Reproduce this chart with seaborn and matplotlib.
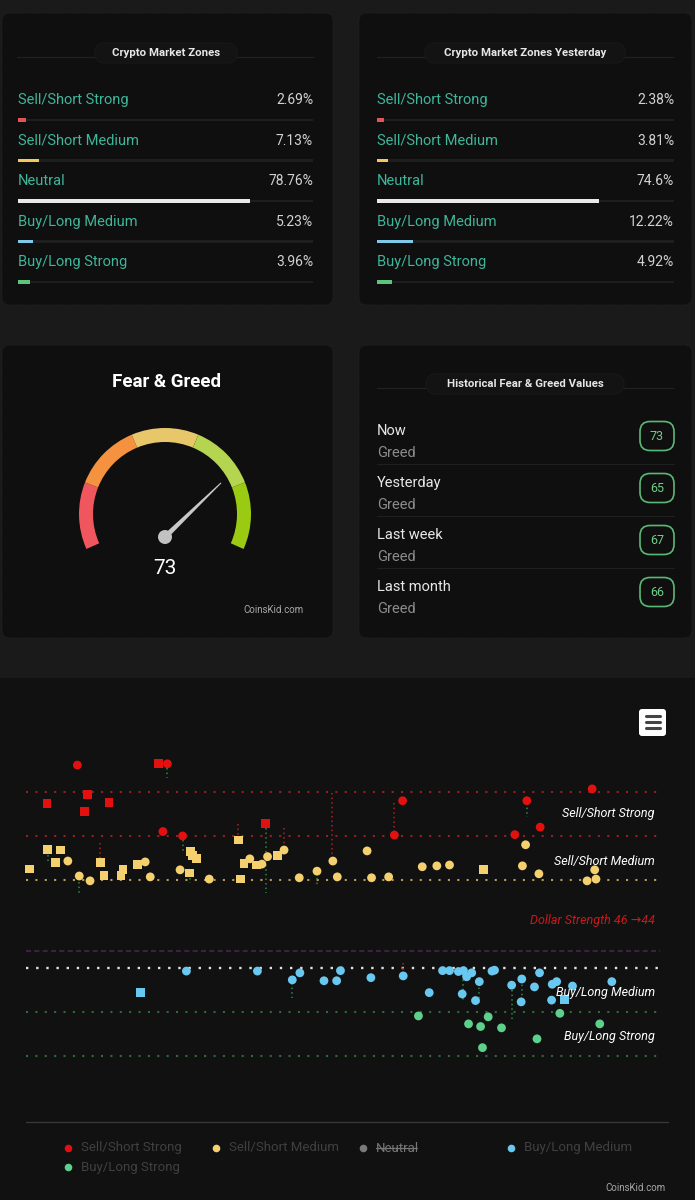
import numpy as np
import pandas as pd
import matplotlib.pyplot as plt
import seaborn as sns
from matplotlib.patches import FancyBboxPatch, Wedge, Polygon, Circle

# --- data ---
zones = ["Sell/Short Strong", "Sell/Short Medium", "Neutral", "Buy/Long Medium", "Buy/Long Strong"]
zones_today = [2.69, 7.13, 78.76, 5.23, 3.96]
zones_yesterday = [2.38, 3.81, 74.6, 12.22, 4.92]
zone_bar_colors = ["#e0555a", "#f2c95f", "#e9e9e9", "#7fc8ea", "#5cc47c"]

fg_value = 73
fg_band_edges = [0, 20, 40, 60, 80, 100]
fg_band_colors = ["#f0565d", "#f5923f", "#e8c76a", "#b5d551", "#9bca12"]

hist_labels = ["Now", "Yesterday", "Last week", "Last month"]
hist_moods = ["Greed", "Greed", "Greed", "Greed"]
hist_values = [73, 65, 67, 66]

# scatter: x = relative position (0-100), y = zone score
sss_x = [8.1, 20.9, 22.3, 9.7, 3.3, 13.1, 9.2, 21.6, 24.7, 37.8, 59.4, 58.1, 89.3, 79.0, 81.1, 77.1]
sss_y = [4.61, 4.64, 4.64, 3.95, 3.73, 3.76, 3.55, 3.10, 3.00, 3.29, 3.80, 3.02, 4.07, 3.80, 3.20, 3.03]
sss_kind = list("osossssoosoooooo")

ssm_x = [0.6, 3.4, 5.4, 4.6, 6.6, 8.4, 10.1, 11.7, 12.3, 15.3, 15.0, 17.6, 18.8, 19.6, 24.3,
         25.8, 25.9, 26.3, 26.9, 28.9, 33.5, 33.8, 34.4, 35.3, 36.3, 37.2, 38.1, 39.7, 40.7, 43.1,
         45.9, 48.4, 49.1, 53.8, 54.5, 57.2, 62.5, 64.8, 66.8, 72.1, 78.8, 78.3, 80.9, 89.7, 88.5, 89.9]
ssm_y = [2.25, 2.70, 2.68, 2.39, 2.43, 2.09, 1.98, 2.39, 2.11, 2.24, 2.11, 2.36, 2.41, 2.07, 2.23,
         2.16, 2.64, 2.55, 2.48, 2.02, 2.91, 2.02, 2.38, 2.48, 2.34, 2.36, 2.53, 2.55, 2.68, 2.05,
         2.20, 2.43, 2.07, 2.66, 2.05, 2.07, 2.30, 2.32, 2.34, 2.23, 2.80, 2.32, 2.14, 2.23, 1.98, 2.02]
ssm_kind = list("ssssooosssssooossssosssosoosoo" + "ooooooooo" + "s" + "oooooo")

blm_x = [25.3, 18.1, 36.5, 42.0, 43.2, 47.0, 49.0, 49.6, 54.4, 59.5, 63.6, 65.7, 66.8, 68.2, 69.0, 69.5, 68.8,
         70.3, 71.5, 70.9, 73.5, 73.9, 76.6, 78.2, 78.1, 80.2, 81.0, 83.0, 83.7, 82.9, 86.2, 84.9, 92.4]
blm_y = [-0.07, -0.56, -0.07, -0.27, -0.11, -0.29, -0.29, -0.06, -0.22, -0.18, -0.56, -0.06, -0.06, -0.08,
         -0.06, -0.20, -0.59, -0.11, -0.31, -0.74, -0.07, -0.05, -0.39, -0.25, -0.77, -0.43, -0.11, -0.37,
         -0.31, -0.73, -0.41, -0.71, -0.31]
blm_kind = list("os" + "o" * 29 + "so")

bls_x = [61.9, 69.8, 71.7, 72.9, 75.0, 72.0, 80.6, 84.2, 90.5]
bls_y = [-1.09, -1.27, -1.33, -1.11, -1.36, -1.81, -1.61, -1.03, -1.27]
bls_kind = list("ooooooooo")

# dotted change markers: x, from, to
green_moves = [(22.3, 4.55, 4.32), (3.4, 2.57, 2.41), (8.4, 1.95, 1.70), (24.7, 2.91, 2.61),
               (25.8, 2.05, 1.93), (37.8, 3.18, 1.70), (45.9, 2.05, 1.84), (42.0, -0.34, -0.68),
               (79.0, 3.75, 3.43), (76.6, -0.50, -1.18), (78.2, -0.27, -0.66), (71.5, -0.34, -0.80),
               (69.0, -0.16, -0.73)]
red_moves = [(11.7, 2.84, 2.45), (48.3, 3.98, 2.52), (58.1, 3.75, 3.07), (40.7, 3.18, 2.75),
             (33.5, 3.27, 2.98), (59.5, 0.11, -0.05)]

zone_levels = [4, 3, 2, 0.39, 0, -1, -2]
level_colors = ["#9c1d1d", "#9c1d1d", "#b49c5e", "#4a2350", "#e2e2e2", "#2e6a3b", "#2e6a3b"]
chart_labels = ["Sell/Short Strong", "Sell/Short Medium", "Buy/Long Medium", "Buy/Long Strong"]
chart_label_y = [3.5, 2.43, -0.55, -1.55]
dollar_text = "Dollar Strength 46 \u219244"
point_colors = {"Sell/Short Strong": "#e31010", "Sell/Short Medium": "#f5d06f", "Neutral": "#7a7a7a",
                "Buy/Long Medium": "#69c8f0", "Buy/Long Strong": "#5dd08b"}

W, H = 695, 1200
BG = "#1a1a1a"
PANEL = "#0f0f0f"
TEAL = "#3fb59a"

sns.set_theme(style="dark")
plt.rcParams["font.family"] = ["Roboto", "DejaVu Sans"]

fig = plt.figure(figsize=(W / 100, H / 100), dpi=100, facecolor=BG)
canvas = fig.add_axes([0, 0, 1, 1])
canvas.set_xlim(0, W)
canvas.set_ylim(H, 0)
canvas.axis("off")


def px_axes(x0, y0, x1, y1):
    ax = fig.add_axes([x0 / W, 1 - y1 / H, (x1 - x0) / W, (y1 - y0) / H])
    ax.set_facecolor("none")
    return ax


def panel(x0, y0, x1, y1, fc=PANEL):
    canvas.add_patch(FancyBboxPatch((x0, y0), x1 - x0, y1 - y0, boxstyle="round,pad=0,rounding_size=8",
                                    fc=fc, ec="#222222", lw=0.8, ls=(0, (1, 1))))


def pill(cx, cy, half_w, text, xl, xr):
    canvas.plot([xl, xr], [cy + 4, cy + 4], color="#222222", lw=0.8)
    canvas.add_patch(FancyBboxPatch((cx - half_w, cy - 10), 2 * half_w, 20,
                                    boxstyle="round,pad=0,rounding_size=10", fc="#131313", ec="#171717", zorder=3))
    canvas.text(cx, cy, text, ha="center", va="center", color="#e6e6e6", fontsize=8.2,
                fontweight="bold", zorder=4)


panel(2, 13, 333, 305)
panel(359, 13, 692, 305)
panel(2, 345, 333, 638)
panel(359, 345, 692, 638)
canvas.add_patch(plt.Rectangle((0, 678), W, H - 678, fc="#111111", ec="none"))

pill(166, 53, 71, "Crypto Market Zones", 17, 314)
pill(525, 53, 100, "Crypto Market Zones Yesterday", 377, 673)
pill(525, 384, 99, "Historical Fear & Greed Values", 377, 673)


# --- zone bars ---
def zone_bars(x0, x1, values):
    ax = px_axes(x0, 80, x1, 292)
    ax.barh(range(len(zones)), [100] * len(zones), height=0.055, color="#1e1e1e",
            linewidth=0, edgecolor="none", zorder=0)
    sns.barplot(x=values, y=zones, hue=zones, palette=zone_bar_colors, orient="h", width=0.085,
                saturation=1, legend=False, ax=ax, zorder=2, linewidth=0, edgecolor="none")
    ax.set_xlim(0, 100)
    ax.set_ylim(4.25, -0.99)
    for i, (z, v) in enumerate(zip(zones, values)):
        ax.text(0, i - 0.49, z, ha="left", va="center", color=TEAL, fontsize=10.5)
        ax.text(100, i - 0.49, f"{v}%", ha="right", va="center", color="#d2d2d2", fontsize=10)
    ax.axis("off")


zone_bars(18, 313, zones_today)
zone_bars(377, 674, zones_yesterday)

# --- gauge ---
canvas.text(166, 382, "Fear & Greed", ha="center", va="center", color="white", fontsize=13.5, fontweight="bold")
gx = px_axes(65, 414, 265, 614)
gx.set_xlim(-100, 100)
gx.set_ylim(-100, 100)
gx.axis("off")


def gauge_angle(v):
    return 204 - v / 100 * 228


for i, col in enumerate(fg_band_colors):
    gx.add_patch(Wedge((0, 0), 86, gauge_angle(fg_band_edges[i + 1]), gauge_angle(fg_band_edges[i]),
                       width=14, fc=col, ec="none"))
pivot = np.array([0, -23])
ang = np.deg2rad(190 - fg_value / 100 * 200)
d = np.array([np.cos(ang), np.sin(ang)])
nrm = np.array([-d[1], d[0]])
tip = pivot + 78 * d
gx.add_patch(Polygon([pivot + 2.6 * nrm, tip + 0.5 * nrm, tip - 0.5 * nrm, pivot - 2.6 * nrm],
                     closed=True, fc="#c8c8c8", ec="none"))
gx.add_patch(Circle(tuple(pivot), 7, fc="#c2c2c2", ec="none"))
gx.text(0, -55, str(fg_value), ha="center", va="center", color="white", fontsize=15)
canvas.text(303, 610, "CoinsKid.com", ha="right", va="center", color="#a8a8a8", fontsize=7)

# --- historical values ---
for i, (lab, mood, val) in enumerate(zip(hist_labels, hist_moods, hist_values)):
    y = 431 + i * 52
    canvas.text(377, y, lab, ha="left", va="center", color="#e8e8e8", fontsize=10.5)
    canvas.text(377, y + 22, mood, ha="left", va="center", color="#8c8c8c", fontsize=10.5)
    canvas.add_patch(FancyBboxPatch((640, y - 9.5), 34, 29, boxstyle="round,pad=0,rounding_size=10",
                                    fc="none", ec="#5cb877", lw=1.2))
    canvas.text(657, y + 5, str(val), ha="center", va="center", color="#6fcf8a", fontsize=9)
    if i < 3:
        canvas.plot([377, 674], [y + 33, y + 33], color="#202020", lw=0.8)

# --- zone scatter chart ---
frames = []
for name, xs, ys, ks in [("Sell/Short Strong", sss_x, sss_y, sss_kind),
                         ("Sell/Short Medium", ssm_x, ssm_y, ssm_kind),
                         ("Buy/Long Medium", blm_x, blm_y, blm_kind),
                         ("Buy/Long Strong", bls_x, bls_y, bls_kind)]:
    frames.append(pd.DataFrame({"x": xs, "y": ys, "zone": name, "kind": ks}))
df = pd.concat(frames, ignore_index=True)

ax = px_axes(26, 740, 660, 1080)
ax.set_xlim(0, 100)
ax.set_ylim(-2.545, 5.18)
for lvl, col in zip(zone_levels, level_colors):
    if col == "#4a2350":
        ax.axhline(lvl, color=col, lw=1.2, ls=(0, (3, 2)), zorder=1)
    elif col == "#e2e2e2":
        ax.axhline(lvl, color=col, lw=1.7, ls=(0, (1, 3.3)), zorder=1)
    else:
        ax.axhline(lvl, color=col, lw=1.5, ls=(0, (1, 3.5)), zorder=1)
for xm, y0, y1 in green_moves:
    ax.plot([xm, xm], [y0, y1], color="#2f8a45", lw=1.1, ls=(0, (1, 2)), zorder=2)
for xm, y0, y1 in red_moves:
    ax.plot([xm, xm], [y0, y1], color="#b02020", lw=1.1, ls=(0, (1, 2)), zorder=2)
sns.scatterplot(data=df, x="x", y="y", hue="zone", style="kind", markers={"o": "o", "s": "s"},
                palette=point_colors, s=40, linewidth=0, legend=False, ax=ax, zorder=3, clip_on=False)
for lab, yl in zip(chart_labels, chart_label_y):
    ax.text(99.2, yl, lab, ha="right", va="center", color="white", fontsize=9, fontstyle="italic")
ax.text(99.2, 1.07, dollar_text, ha="right", va="center", color="#c8191c", fontsize=9, fontstyle="italic")
ax.axis("off")

# menu button
canvas.add_patch(FancyBboxPatch((639, 709), 27, 27, boxstyle="round,pad=0,rounding_size=3", fc="white", ec="none"))
for k in range(3):
    canvas.plot([645.5, 659.5], [716 + 6 * k, 716 + 6 * k], color="#444444", lw=2.2, solid_capstyle="round")

# legend
canvas.plot([26, 668], [1122, 1122], color="#3a3a3a", lw=0.9)
legend_items = [("Sell/Short Strong", 68, 1148), ("Sell/Short Medium", 216, 1148), ("Neutral", 363, 1148),
                ("Buy/Long Medium", 511, 1148), ("Buy/Long Strong", 68, 1167)]
for name, lx, ly in legend_items:
    canvas.scatter(lx, ly, s=30, color=point_colors[name], linewidth=0)
    t = canvas.text(lx + 13, ly, name, ha="left", va="center", color="#404040", fontsize=9.5)
    if name == "Neutral":
        canvas.plot([lx + 13, lx + 54], [ly, ly], color="#777777", lw=0.9)
        t.set_color("#777777")
canvas.text(665, 1188, "CoinsKid.com", ha="right", va="center", color="#a8a8a8", fontsize=7)

fig.savefig("out.png", dpi=100, facecolor=BG)
